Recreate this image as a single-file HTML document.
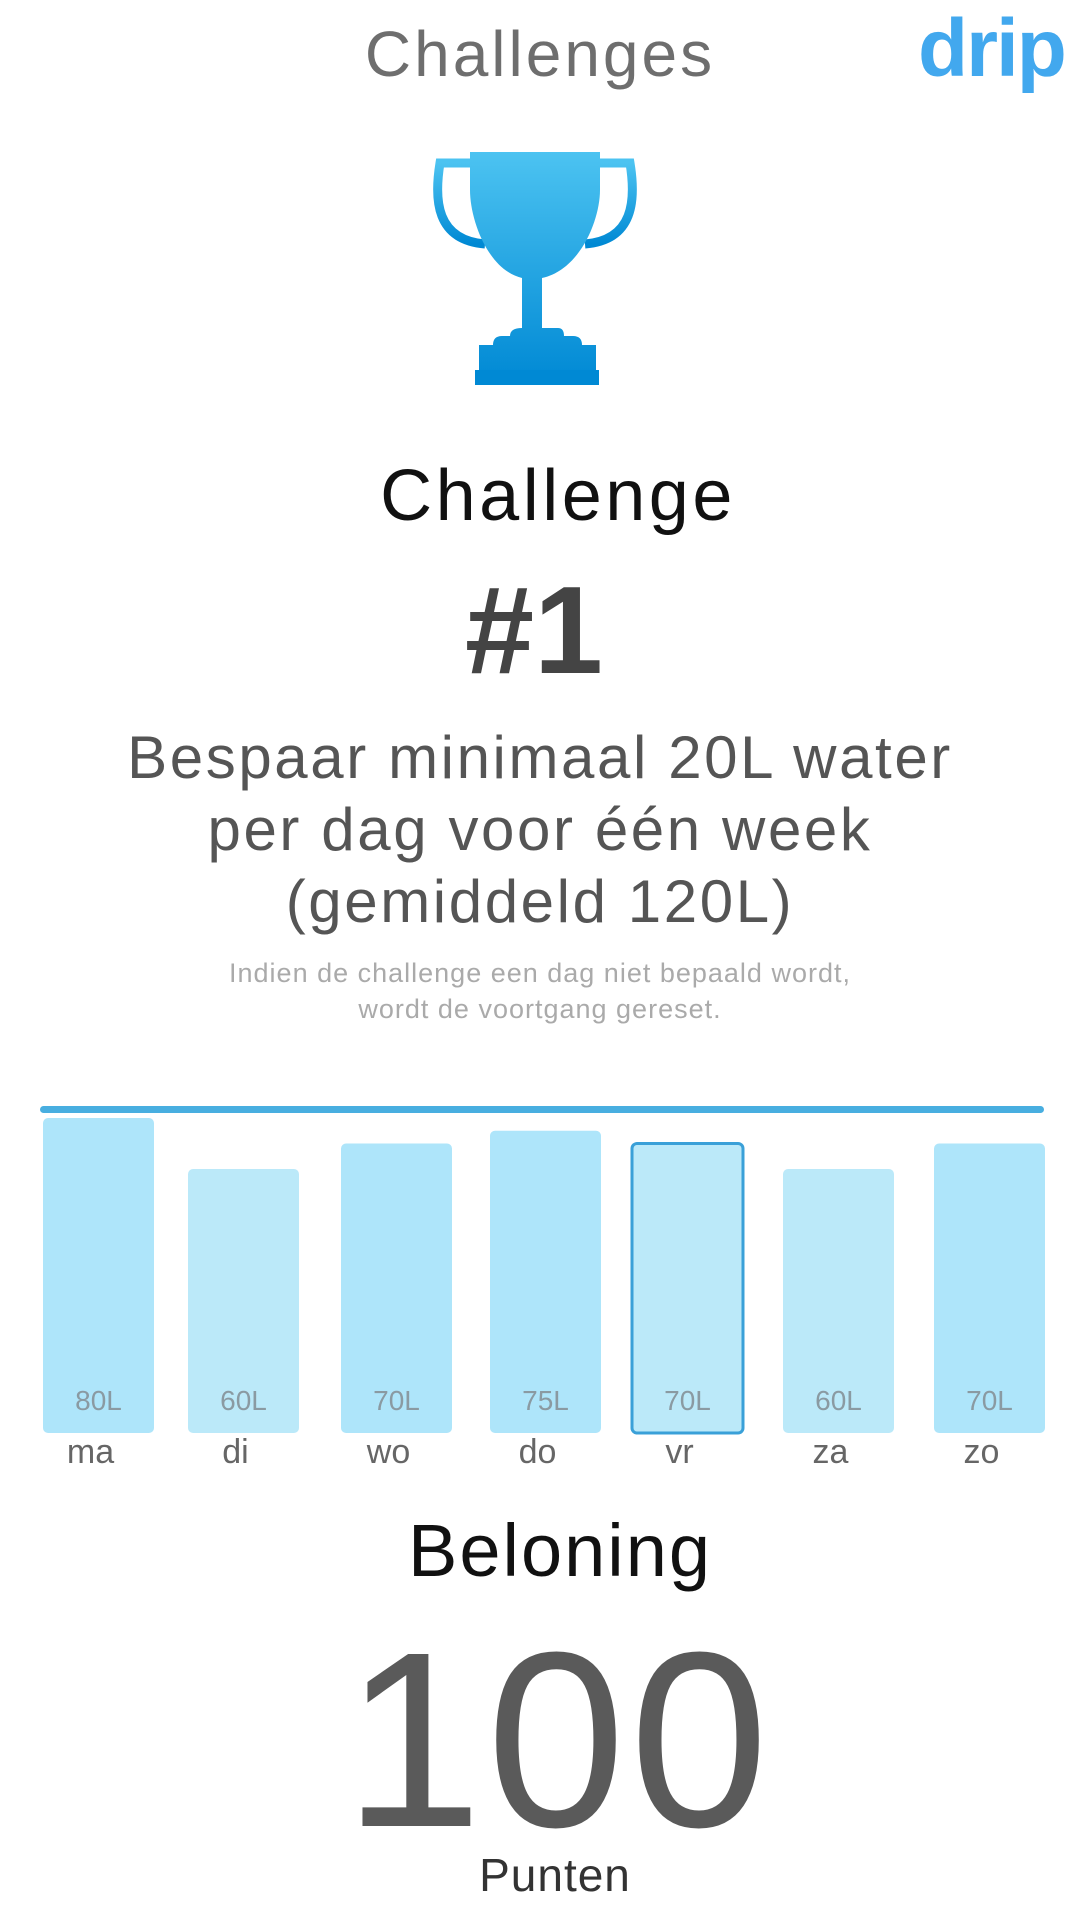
<!DOCTYPE html>
<html><head><meta charset="utf-8"><style>
body{margin:0;width:1080px;height:1920px;background:#fff;overflow:hidden;position:relative;font-family:"Liberation Sans",sans-serif}
.t{position:absolute;left:0;width:1080px;text-align:center;white-space:nowrap}
</style></head><body>
<div class="t" style="top:17px;font-size:64px;color:#6e6e6e;letter-spacing:3px">Challenges</div>
<div style="position:absolute;left:918px;top:2px;font-size:82px;font-weight:bold;color:#42a8ee;letter-spacing:-2px">drip</div>
<svg style="position:absolute;left:430px;top:140px" width="210" height="245" viewBox="0 0 210 245">
<defs><linearGradient id="g" x1="0" y1="0" x2="0" y2="1"><stop offset="0" stop-color="#4cc3f1"/><stop offset="1" stop-color="#0089d4"/></linearGradient></defs>
<path d="M40 23 H10 C4 60 6 100 55 104 M170 23 H200 C206 60 204 100 155 104" fill="none" stroke="url(#g)" stroke-width="9"/>
<path d="M40 12 H170 V50 C170 80 150 130 112 138 V188 H128 Q134 188 134 196 H143 Q152 196 152 205 H166 V243 H49 V205 H63 Q63 196 72 196 H80 Q80 188 92 188 V138 C58 130 40 80 40 50 Z" fill="url(#g)"/>
<rect x="45" y="230" width="124" height="15" fill="#0089d4"/>
</svg>
<div class="t" style="top:455px;left:18px;font-size:72px;color:#111;letter-spacing:3.5px">Challenge</div>
<div class="t" style="top:560px;left:-6px;font-size:124px;font-weight:bold;color:#444">#1</div>
<div class="t" style="top:722px;font-size:60px;line-height:72px;color:#555;letter-spacing:2.6px">Bespaar minimaal 20L water<br>per dag voor één week<br>(gemiddeld 120L)</div>
<div class="t" style="top:955px;font-size:27px;line-height:36px;color:#aaa;letter-spacing:1px">Indien de challenge een dag niet bepaald wordt,<br>wordt de voortgang gereset.</div>
<svg style="position:absolute;left:0;top:1090px" width="1080" height="400" id="chart"></svg>
<div class="t" style="top:1508px;left:20px;font-size:74px;color:#111;letter-spacing:2px">Beloning</div>
<div class="t" style="top:1600px;left:18px;font-size:250px;color:#5a5a5a;line-height:280px;letter-spacing:4px">100</div>
<div class="t" style="top:1848px;left:15px;font-size:46px;color:#333;letter-spacing:1px">Punten</div>
<script>
const days=["ma","di","wo","do","vr","za","zo"];
const values=[80,60,70,75,70,60,70];
const labels=["80L","60L","70L","75L","70L","60L","70L"];
const ns="http://www.w3.org/2000/svg",svg=document.getElementById("chart");
const oy=1090,base=1433-oy;
const hOf=v=>111+2.55*v;
const xs=[43,188,341,490,632,783,934];
const line=document.createElementNS(ns,"rect");


line.setAttribute("x",40);line.setAttribute("y",1106-oy);line.setAttribute("width",1004);line.setAttribute("height",7);line.setAttribute("rx",3.5);line.setAttribute("fill","#48aee0");
svg.appendChild(line);
values.forEach((v,i)=>{
 const h=hOf(v),x=xs[i],w=111;
 const r=document.createElementNS(ns,"rect");
 
 
 r.setAttribute("x",x);r.setAttribute("y",base-h);r.setAttribute("width",w);r.setAttribute("height",h);r.setAttribute("rx",5);
 r.setAttribute("fill",(v>=70&&i!==4)?"#aee5fa":"#bbe9f9");
 if(i===4){r.setAttribute("stroke","#3aa0d8");r.setAttribute("stroke-width",3);}
 svg.appendChild(r);
 const t=document.createElementNS(ns,"text");
 
 
 t.setAttribute("x",x+w/2);t.setAttribute("y",1410-oy);t.setAttribute("text-anchor","middle");t.setAttribute("font-size",28);t.setAttribute("fill","#8a9aa2");t.setAttribute("font-family","Liberation Sans");
 t.textContent=labels[i];svg.appendChild(t);
 const d=document.createElementNS(ns,"text");
 
 
 d.setAttribute("x",x+w/2-8);d.setAttribute("y",1463-oy);d.setAttribute("text-anchor","middle");d.setAttribute("font-size",34);d.setAttribute("fill","#666");d.setAttribute("font-family","Liberation Sans");
 d.textContent=days[i];svg.appendChild(d);
});
</script>
</body></html>
